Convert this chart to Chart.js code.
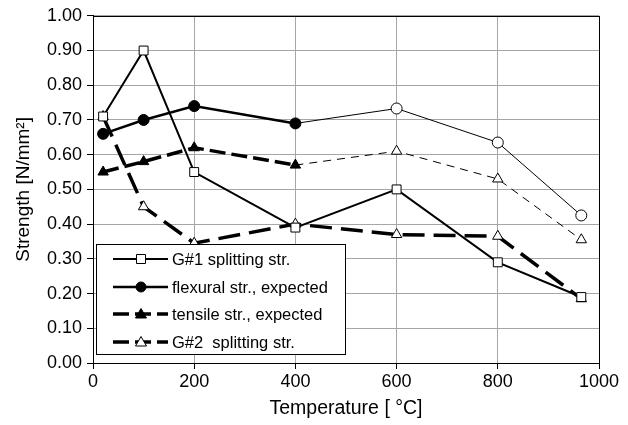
<!DOCTYPE html>
<html>
<head>
<meta charset="utf-8">
<script src="https://cdn.jsdelivr.net/npm/chart.js@4/dist/chart.umd.min.js"></script>
<style>
  html, body { margin: 0; padding: 0; background: #fff; }
  #wrap { width: 628px; height: 425px; }
</style>
</head>
<body>
<div id="wrap"><canvas id="chart" width="628" height="425"></canvas></div>
<script>
const temps = [20, 100, 200, 400, 600, 800, 965];
const g1Split = [0.71, 0.90, 0.55, 0.39, 0.50, 0.29, 0.19];
const flexural = [0.66, 0.70, 0.74, 0.69, 0.733, 0.635, 0.425];
const tensile = [0.55, 0.58, 0.62, 0.57, 0.61, 0.53, 0.355];
const g2Split = [0.71, 0.45, 0.345, 0.40, 0.37, 0.365, 0.185];

const seriesNames = [
  "G#1 splitting str.",
  "flexural str., expected",
  "tensile str., expected",
  "G#2  splitting str."
];

const FONT = "'Liberation Sans', Arial, sans-serif";
const pts = (ys) => temps.map((t, i) => ({ x: t, y: ys[i] }));

// after 400 °C the "expected" curves switch to thin lines + open markers
const thinAfter = 3;

const frameBorder = {
  id: "frameBorder",
  afterDraw(c) {
    const { ctx, chartArea: a } = c;
    ctx.save();
    ctx.strokeStyle = "#000";
    ctx.lineWidth = 1;
    ctx.strokeRect(Math.round(a.left) + 0.5, Math.round(a.top) + 0.5,
      Math.round(a.right - a.left), Math.round(a.bottom - a.top));
    ctx.restore();
  }
};

const boxLegend = {
  id: "boxLegend",
  afterDraw(c) {
    const { ctx } = c;
    const x0 = 96, y0 = 244, w = 249, h = 110;
    ctx.save();
    ctx.fillStyle = "#fff";
    ctx.fillRect(x0, y0, w, h);
    ctx.strokeStyle = "#000";
    ctx.lineWidth = 1;
    ctx.strokeRect(x0 + 0.5, y0 + 0.5, w, h);

    const rows = [259, 287, 314, 342];
    const lx1 = 113, lx2 = 168, mx = 141;
    const styles = [
      { width: 2, dash: [], marker: "rect", fill: "#fff" },
      { width: 2.5, dash: [], marker: "circle", fill: "#000" },
      { width: 3.5, dash: [16, 6], marker: "triangle", fill: "#000" },
      { width: 3.5, dash: [16, 6], marker: "triangle", fill: "#fff" }
    ];
    styles.forEach((s, i) => {
      const y = rows[i];
      ctx.strokeStyle = "#000";
      ctx.lineWidth = s.width;
      ctx.setLineDash(s.dash);
      ctx.beginPath();
      ctx.moveTo(lx1, y);
      ctx.lineTo(lx2, y);
      ctx.stroke();
      ctx.setLineDash([]);
      ctx.fillStyle = s.fill;
      ctx.lineWidth = 1;
      ctx.beginPath();
      if (s.marker === "rect") {
        ctx.rect(mx - 4.5, y - 4.5, 9, 9);
      } else if (s.marker === "circle") {
        ctx.arc(mx, y, 5, 0, Math.PI * 2);
      } else {
        ctx.moveTo(mx, y - 5.5);
        ctx.lineTo(mx + 5.5, y + 4);
        ctx.lineTo(mx - 5.5, y + 4);
        ctx.closePath();
      }
      ctx.fill();
      ctx.stroke();
      ctx.fillStyle = "#000";
      ctx.font = "16.5px " + FONT;
      ctx.textBaseline = "middle";
      ctx.fillText(seriesNames[i], 172, y + 1);
    });
    ctx.restore();
  }
};

const openAfter = (ctx) => (ctx.dataIndex > thinAfter ? "#fff" : "#000");

new Chart(document.getElementById("chart"), {
  type: "scatter",
  data: {
    datasets: [
      {
        label: seriesNames[0],
        data: pts(g1Split),
        showLine: true,
        borderColor: "#000",
        borderWidth: 2,
        pointStyle: "rect",
        pointRadius: 6.3,
        pointBorderWidth: 1,
        pointBackgroundColor: "#fff",
        pointBorderColor: "#000"
      },
      {
        label: seriesNames[1],
        data: pts(flexural),
        showLine: true,
        borderColor: "#000",
        borderWidth: 2.5,
        segment: {
          borderWidth: (ctx) => (ctx.p0DataIndex >= thinAfter ? 1 : 2.5)
        },
        pointStyle: "circle",
        pointRadius: 5.5,
        pointBorderWidth: 1,
        pointBackgroundColor: openAfter,
        pointBorderColor: "#000"
      },
      {
        label: seriesNames[2],
        data: pts(tensile),
        showLine: true,
        borderColor: "#000",
        borderWidth: 3.5,
        borderDash: [16, 6],
        segment: {
          borderWidth: (ctx) => (ctx.p0DataIndex >= thinAfter ? 1 : 3.5),
          borderDash: (ctx) => (ctx.p0DataIndex >= thinAfter ? [8, 6] : [16, 6])
        },
        pointStyle: "triangle",
        pointRadius: 6,
        pointBorderWidth: 1,
        pointBackgroundColor: openAfter,
        pointBorderColor: "#000"
      },
      {
        label: seriesNames[3],
        data: pts(g2Split),
        showLine: true,
        borderColor: "#000",
        borderWidth: 3.5,
        borderDash: [22, 9],
        pointStyle: "triangle",
        pointRadius: 6,
        pointBorderWidth: 1,
        pointBackgroundColor: "#fff",
        pointBorderColor: "#000"
      }
    ]
  },
  options: {
    responsive: false,
    animation: false,
    layout: { padding: { top: 14, right: 29, left: 0, bottom: 0 } },
    plugins: {
      legend: { display: false },
      tooltip: { enabled: false }
    },
    scales: {
      x: {
        type: "linear",
        min: 0,
        max: 1000,
        afterFit: (s) => { s.height = 62; },
        ticks: {
          stepSize: 200,
          color: "#000",
          font: { family: FONT, size: 18 },
          padding: 2,
          maxRotation: 0,
          callback: (v) => String(v)
        },
        grid: { color: "#a6a6a6", tickColor: "#000", tickLength: 6 },
        border: { color: "#000" },
        title: {
          display: true,
          text: "Temperature [ °C]",
          color: "#000",
          font: { family: FONT, size: 19.5 },
          padding: { top: 2, bottom: 5 }
        }
      },
      y: {
        min: 0,
        max: 1,
        afterFit: (s) => { s.width = 93; },
        ticks: {
          stepSize: 0.1,
          color: "#000",
          font: { family: FONT, size: 18 },
          padding: 5,
          callback: (v) => v.toFixed(2)
        },
        grid: { color: "#a6a6a6", tickColor: "#000", tickLength: 6 },
        border: { color: "#000" },
        title: {
          display: true,
          text: "Strength [N/mm²]",
          color: "#000",
          font: { family: FONT, size: 19 },
          padding: { top: 12, bottom: 0 }
        }
      }
    }
  },
  plugins: [frameBorder, boxLegend]
});
</script>
</body>
</html>
